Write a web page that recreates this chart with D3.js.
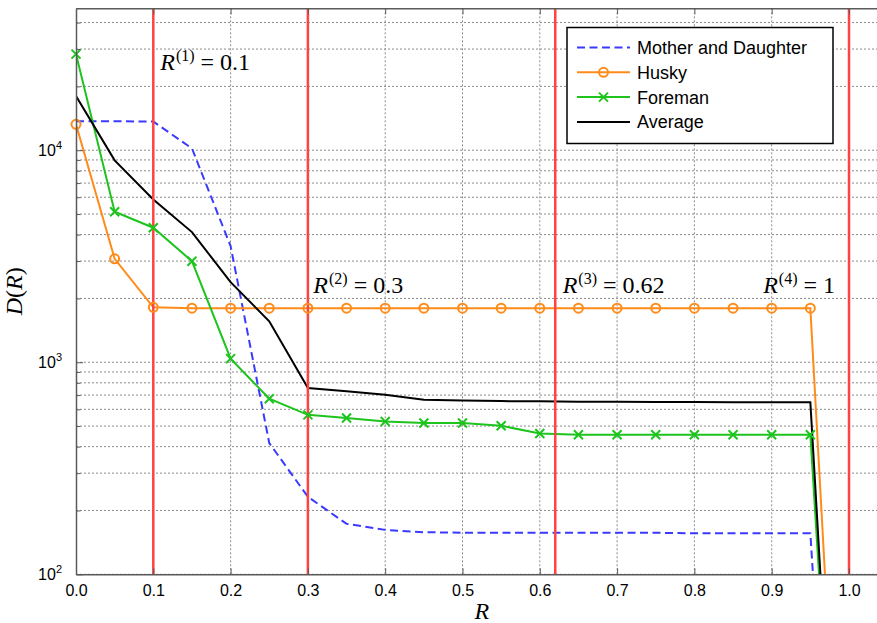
<!DOCTYPE html>
<html>
<head>
<meta charset="utf-8">
<script src="https://cdn.jsdelivr.net/npm/d3@7"></script>
<style>
body { margin: 0; background: #fff; }
svg { display: block; }
.tick text { font-family: "Liberation Sans", Arial, sans-serif; font-size: 16px; fill: #000; }
</style>
</head>
<body>
<svg id="chart" width="877" height="623"></svg>
<script>
// rate values R
var rates = [0, 0.05, 0.1, 0.15, 0.2, 0.25, 0.3, 0.35, 0.4, 0.45, 0.5, 0.55, 0.6, 0.65, 0.7, 0.75, 0.8, 0.85, 0.9, 0.95, 1.0];

// distortion D(R) per sequence
var motherDaughter = [13700, 13700, 13650, 10200, 3530, 416, 232, 173, 162, 158, 157, 157, 157, 157, 157, 157, 156, 156, 156, 156, 0.22];
var husky = [13250, 3076, 1817, 1800, 1800, 1800, 1800, 1800, 1800, 1800, 1800, 1800, 1800, 1800, 1800, 1800, 1800, 1800, 1800, 1800, 0.86];
var foreman = [28400, 5130, 4310, 2997, 1040, 673, 565, 546, 526, 517, 517, 502, 461, 455, 455, 455, 455, 455, 455, 455, 0.53];
var average = [18000, 8960, 5862, 4110, 2386, 1561, 756, 729, 703, 666, 660, 656, 654, 652, 651, 650, 649, 648, 647, 647, 0.5];

var seriesNames = ["Mother and Daughter", "Husky", "Foreman", "Average"];

// chosen rate points
var thresholds = [0.1, 0.3, 0.62, 1];
var thresholdLabels = ["0.1", "0.3", "0.62", "1"];

var xTicks = [0, 0.1, 0.2, 0.3, 0.4, 0.5, 0.6, 0.7, 0.8, 0.9, 1.0];
var yTicks = [100, 1000, 10000];

var color = {
	md: "#3a3aff",
	husky: "#ff8c1a",
	foreman: "#1ec41e",
	average: "#000000",
	mark: "#ff4242",
	grid: "#8a8a8a",
	axis: "#5a5a5a"
};

var svg = d3.select("#chart"),
	margin = {top: 8.3, left: 76},
	width = 773 * 1.05,
	height = 566;

var x = d3.scaleLinear().domain([0, 1.05]).range([0, width]),
	y = d3.scaleLog().domain([100, 46700]).range([height, 0]);

var g = svg.append("g").attr("transform", "translate(" + margin.left + "," + margin.top + ")");

svg.append("defs").append("clipPath").attr("id", "clip")
	.append("rect").attr("width", width).attr("height", height);

// minor log values for the horizontal grid
var minor = [];
[100, 1000, 10000].forEach(function(d){
	for (var k = 1; k <= 9; k++) {
		if (d * k <= y.domain()[1]) minor.push(d * k);
	}
});

g.append("g").attr("class", "grid")
	.selectAll("line.h").data(minor).enter().append("line")
	.attr("x1", 0).attr("x2", width)
	.attr("y1", function(d){return y(d);}).attr("y2", function(d){return y(d);})
	.attr("stroke", color.grid).attr("stroke-width", 1).attr("stroke-dasharray", "2,2");

g.append("g").attr("class", "grid")
	.selectAll("line.v").data(xTicks.slice(1)).enter().append("line")
	.attr("x1", function(d){return x(d);}).attr("x2", function(d){return x(d);})
	.attr("y1", 0).attr("y2", height)
	.attr("stroke", color.grid).attr("stroke-width", 1).attr("stroke-dasharray", "2,2");

var plot = g.append("g").attr("clip-path", "url(#clip)");

var series = [
	{name: seriesNames[0], values: motherDaughter, color: color.md, dash: "8,4.5", marker: null},
	{name: seriesNames[1], values: husky, color: color.husky, dash: null, marker: "circle"},
	{name: seriesNames[2], values: foreman, color: color.foreman, dash: null, marker: "cross"},
	{name: seriesNames[3], values: average, color: color.average, dash: null, marker: null}
];

var line = d3.line()
	.x(function(d){return x(d[0]);})
	.y(function(d){return y(d[1]);});

series.forEach(function(s){
	s.points = rates.map(function(r, i){return [r, s.values[i]];});
	plot.append("path")
		.datum(s.points)
		.attr("d", line)
		.attr("fill", "none")
		.attr("stroke", s.color)
		.attr("stroke-width", 2)
		.attr("stroke-dasharray", s.dash);
});

// vertical lines at the chosen rates
plot.selectAll("line.mark").data(thresholds).enter().append("line")
	.attr("x1", function(d){return x(d);}).attr("x2", function(d){return x(d);})
	.attr("y1", 0).attr("y2", height)
	.attr("stroke", color.mark).attr("stroke-width", 2.5);

function drawMarker(sel, type, c){
	if (type === "circle") {
		sel.append("circle").attr("r", 4.5)
			.attr("fill", "none").attr("stroke", c).attr("stroke-width", 2);
	} else if (type === "cross") {
		sel.append("path").attr("d", "M-4.5,-4.5L4.5,4.5M-4.5,4.5L4.5,-4.5")
			.attr("stroke", c).attr("stroke-width", 2);
	}
}

series.forEach(function(s){
	if (!s.marker) return;
	g.selectAll(null)
		.data(s.points.filter(function(p){return p[1] >= 100;}))
		.enter().append("g")
		.attr("transform", function(d){return "translate(" + x(d[0]) + "," + y(d[1]) + ")";})
		.each(function(){drawMarker(d3.select(this), s.marker, s.color);});
});

// annotation R^(i) = value
var labelPos = [[0.109, 23900], [0.307, 2125], [0.6296, 2125], [0.889, 2125]];
thresholds.forEach(function(t, i){
	var txt = g.append("text")
		.attr("x", x(labelPos[i][0])).attr("y", y(labelPos[i][1]))
		.attr("font-family", "'Liberation Serif', 'Times New Roman', serif")
		.attr("font-size", 24).attr("fill", "#000");
	txt.append("tspan").attr("font-style", "italic").text("R");
	txt.append("tspan").attr("font-size", 16).attr("dy", -9).attr("dx", 1).text("(" + (i + 1) + ")");
	txt.append("tspan").attr("dy", 9).text(" = " + thresholdLabels[i]);
});

// axes
var xAxis = d3.axisBottom(x).tickValues(xTicks).tickFormat(d3.format(".1f"))
	.tickSizeInner(-6).tickSizeOuter(0).tickPadding(10);
var gx = g.append("g").attr("transform", "translate(0," + height + ")").call(xAxis);
gx.select(".domain").attr("stroke", color.axis).attr("stroke-width", 1.5);
gx.selectAll(".tick line").attr("stroke", color.axis);

g.append("g").call(d3.axisTop(x).tickValues(xTicks).tickFormat("").tickSizeInner(-6).tickSizeOuter(0))
	.call(function(a){
		a.select(".domain").attr("stroke", color.axis).attr("stroke-width", 1.5);
		a.selectAll(".tick line").attr("stroke", color.axis);
	});

var yAxis = d3.axisLeft(y).tickValues(minor).tickSizeInner(-6).tickSizeOuter(0).tickPadding(6)
	.tickFormat(function(d){return yTicks.indexOf(d) >= 0 ? "10" : "";});
var gy = g.append("g").call(yAxis);
gy.select(".domain").attr("stroke", color.axis).attr("stroke-width", 1.5);
gy.selectAll(".tick line").attr("stroke", color.axis)
	.attr("x2", function(d){return yTicks.indexOf(d) >= 0 ? 7 : 4.5;});
gy.selectAll(".tick text").filter(function(d){return yTicks.indexOf(d) >= 0;})
	.attr("dx", -8)
	.append("tspan").attr("font-size", 11).attr("dy", -7)
	.text(function(d){return Math.round(Math.log10(d));});

// axis titles
g.append("text")
	.attr("x", width / 2).attr("y", height + 45)
	.attr("text-anchor", "middle")
	.attr("font-family", "'Liberation Serif', 'Times New Roman', serif")
	.attr("font-size", 24).attr("font-style", "italic")
	.text("R");

var yl = g.append("text")
	.attr("transform", "translate(-54," + (height / 2) + ") rotate(-90)")
	.attr("text-anchor", "middle")
	.attr("font-family", "'Liberation Serif', 'Times New Roman', serif")
	.attr("font-size", 24);
yl.append("tspan").attr("font-style", "italic").text("D");
yl.append("tspan").text("(");
yl.append("tspan").attr("font-style", "italic").text("R");
yl.append("tspan").text(")");

// legend
var legend = svg.append("g").attr("transform", "translate(567,27.5)");
legend.append("rect").attr("width", 266).attr("height", 116)
	.attr("fill", "#fff").attr("stroke", "#000").attr("stroke-width", 1.5);

series.forEach(function(s, i){
	var row = legend.append("g").attr("transform", "translate(0," + (20 + i * 24.8) + ")");
	row.append("line").attr("x1", 10).attr("x2", 63)
		.attr("stroke", s.color).attr("stroke-width", 2).attr("stroke-dasharray", s.dash);
	var m = row.append("g").attr("transform", "translate(36.5,0)");
	drawMarker(m, s.marker, s.color);
	row.append("text").attr("x", 70).attr("y", 6.5)
		.attr("font-family", "'Liberation Sans', Arial, sans-serif")
		.attr("font-size", 18).text(s.name);
});
</script>
</body>
</html>
